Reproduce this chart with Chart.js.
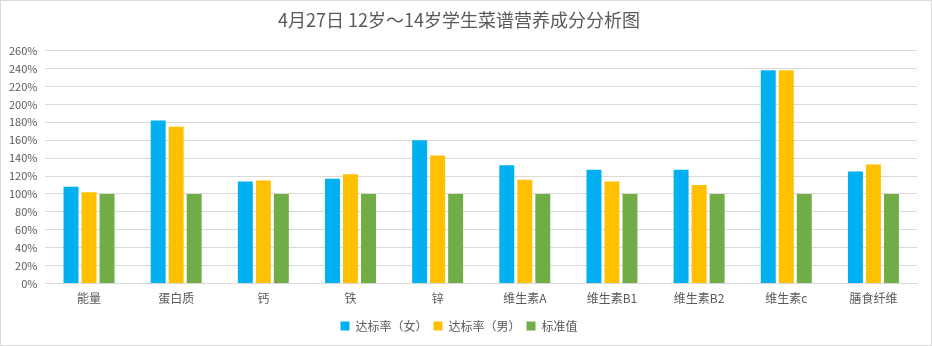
<!DOCTYPE html>
<html lang="zh">
<head>
    <meta charset="UTF-8">
    <title>营养成分分析图</title>
    <script src="https://cdn.jsdelivr.net/npm/chart.js@4.4.0/dist/chart.umd.min.js"></script>
    <style>
        html, body {
            margin: 0;
            padding: 0;
            background: #fff;
        }
        .chart-box {
            width: 930px;
            height: 344px;
            border: 1px solid #d9d9d9;
            position: relative;
        }
    </style>
</head>
<body>
    <div class="chart-box">
        <canvas id="nutritionChart"></canvas>
    </div>

    <script>
        const categories = ['能量', '蛋白质', '钙', '铁', '锌', '维生素A', '维生素B1', '维生素B2', '维生素c', '膳食纤维'];
        const girlsRate = [108, 182, 114, 117, 160, 132, 127, 127, 238, 125];
        const boysRate = [102, 175, 115, 122, 143, 116, 114, 110, 238, 133];
        const standard = [100, 100, 100, 100, 100, 100, 100, 100, 100, 100];

        const fontFamily = '"Noto Sans CJK SC", "Noto Sans", sans-serif';
        const textColor = '#595959';

        const ctx = document.getElementById('nutritionChart').getContext('2d');
        new Chart(ctx, {
            type: 'bar',
            data: {
                labels: categories,
                datasets: [
                    { label: '达标率（女）', data: girlsRate, backgroundColor: '#00b0f0' },
                    { label: '达标率（男）', data: boysRate, backgroundColor: '#ffc000' },
                    { label: '标准值', data: standard, backgroundColor: '#70ad47' }
                ]
            },
            options: {
                responsive: true,
                maintainAspectRatio: false,
                animation: false,
                datasets: {
                    bar: {
                        categoryPercentage: 0.62,
                        barPercentage: 0.83
                    }
                },
                layout: {
                    padding: { left: 0, right: 14, top: 6, bottom: 3 }
                },
                scales: {
                    x: {
                        grid: { display: false, drawTicks: false },
                        border: { color: '#d9d9d9' },
                        ticks: {
                            color: textColor,
                            font: { family: fontFamily, size: 12 },
                            padding: 8
                        }
                    },
                    y: {
                        min: 0,
                        max: 260,
                        grid: { color: '#d9d9d9', drawTicks: false },
                        border: { display: false },
                        ticks: {
                            stepSize: 20,
                            color: textColor,
                            font: { family: fontFamily, size: 11 },
                            padding: 8,
                            callback: function(value) {
                                return value + '%';
                            }
                        }
                    }
                },
                plugins: {
                    title: {
                        display: true,
                        text: '4月27日 12岁～14岁学生菜谱营养成分分析图',
                        color: textColor,
                        font: { family: fontFamily, size: 18, weight: 'normal' },
                        padding: { top: 2, bottom: 20 }
                    },
                    legend: {
                        position: 'bottom',
                        labels: {
                            color: textColor,
                            font: { family: fontFamily, size: 12 },
                            boxWidth: 9,
                            boxHeight: 9,
                            padding: 6
                        }
                    },
                    tooltip: { enabled: false }
                }
            }
        });
    </script>
</body>
</html>
